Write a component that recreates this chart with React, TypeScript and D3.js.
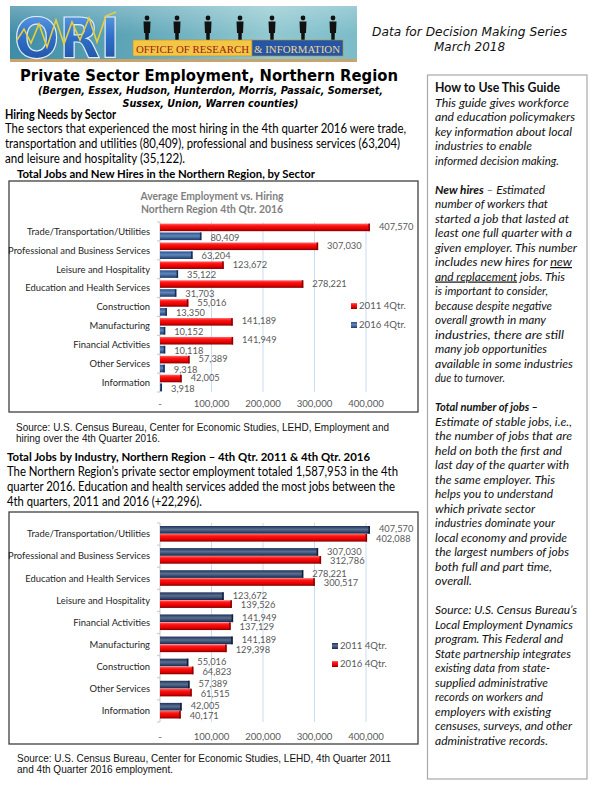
import React from 'react';
import * as d3 from 'd3';

// ---------- DATA ----------
const hiringCategories = [
  'Trade/Transportation/Utilities',
  'Professional and Business Services',
  'Leisure and Hospitality',
  'Education and Health Services',
  'Construction',
  'Manufacturing',
  'Financial Activities',
  'Other Services',
  'Information',
];
const hiringEmployment = [407570, 307030, 123672, 278221, 55016, 141189, 141949, 57389, 42005];
const hiringNewHires = [80409, 63204, 35122, 31703, 13350, 10152, 10118, 9318, 3918];
const hiringSeriesNames = ['2011 4Qtr.', '2016 4Qtr.'];

const jobsCategories = [
  'Trade/Transportation/Utilities',
  'Professional and Business Services',
  'Education and Health Services',
  'Leisure and Hospitality',
  'Financial Activities',
  'Manufacturing',
  'Construction',
  'Other Services',
  'Information',
];
const jobs2011 = [407570, 307030, 278221, 123672, 141949, 141189, 55016, 57389, 42005];
const jobs2016 = [402088, 312786, 300517, 139526, 137129, 129398, 64823, 61515, 40171];
const jobsSeriesNames = ['2011 4Qtr.', '2016 4Qtr.'];

const xTickValues = [0, 100000, 200000, 300000, 400000];
const xTickLabels = ['-', '100,000', '200,000', '300,000', '400,000'];

const chart1Title = ['Average Employment vs. Hiring', 'Northern Region  4th Qtr. 2016'];

const sidebarLines: { n: number; end: number; parts: { t: string; b?: boolean; u?: boolean }[]; title?: boolean }[] = [
  { n: 0, end: 560, title: true, parts: [{ t: 'How to Use This Guide' }] },
  { n: 1, end: 569, parts: [{ t: 'This guide gives workforce' }] },
  { n: 2, end: 575, parts: [{ t: 'and education policymakers' }] },
  { n: 3, end: 572, parts: [{ t: 'key information about local' }] },
  { n: 4, end: 532, parts: [{ t: 'industries to enable' }] },
  { n: 5, end: 559, parts: [{ t: 'informed decision making.' }] },
  { n: 7, end: 545, parts: [{ t: 'New hires', b: true }, { t: ' \u2013 Estimated' }] },
  { n: 8, end: 548, parts: [{ t: 'number of workers that' }] },
  { n: 9, end: 569, parts: [{ t: 'started a job that lasted at' }] },
  { n: 10, end: 572, parts: [{ t: 'least one full quarter with a' }] },
  { n: 11, end: 577, parts: [{ t: 'given employer. This number' }] },
  { n: 12, end: 572, parts: [{ t: 'includes new hires for ' }, { t: 'new', u: true }] },
  { n: 13, end: 565, parts: [{ t: 'and replacement', u: true }, { t: ' jobs.  This' }] },
  { n: 14, end: 548, parts: [{ t: 'is important to consider,' }] },
  { n: 15, end: 552, parts: [{ t: 'because despite negative' }] },
  { n: 16, end: 546, parts: [{ t: 'overall growth in many' }] },
  { n: 17, end: 564, parts: [{ t: 'industries, there are still' }] },
  { n: 18, end: 547, parts: [{ t: 'many job opportunities' }] },
  { n: 19, end: 573, parts: [{ t: 'available in some industries' }] },
  { n: 20, end: 505, parts: [{ t: 'due to turnover.' }] },
  { n: 22, end: 538, parts: [{ t: 'Total number of jobs \u2013', b: true }] },
  { n: 23, end: 572, parts: [{ t: 'Estimate of stable jobs, i.e.,' }] },
  { n: 24, end: 572, parts: [{ t: 'the number of jobs that are' }] },
  { n: 25, end: 562, parts: [{ t: 'held on both the first and' }] },
  { n: 26, end: 569, parts: [{ t: 'last day of the quarter with' }] },
  { n: 27, end: 555, parts: [{ t: 'the same employer. This' }] },
  { n: 28, end: 553, parts: [{ t: 'helps you to understand' }] },
  { n: 29, end: 535, parts: [{ t: 'which private sector' }] },
  { n: 30, end: 555, parts: [{ t: 'industries dominate your' }] },
  { n: 31, end: 567, parts: [{ t: 'local economy and provide' }] },
  { n: 32, end: 569, parts: [{ t: 'the largest numbers of jobs' }] },
  { n: 33, end: 552, parts: [{ t: 'both full and part time,' }] },
  { n: 34, end: 472, parts: [{ t: 'overall.' }] },
  { n: 36, end: 577, parts: [{ t: 'Source: U.S. Census Bureau\u2019s' }] },
  { n: 37, end: 573, parts: [{ t: 'Local Employment Dynamics' }] },
  { n: 38, end: 563, parts: [{ t: 'program. This Federal and' }] },
  { n: 39, end: 571, parts: [{ t: 'State partnership integrates' }] },
  { n: 40, end: 550, parts: [{ t: 'existing data from state-' }] },
  { n: 41, end: 548, parts: [{ t: 'supplied administrative' }] },
  { n: 42, end: 543, parts: [{ t: 'records on workers and' }] },
  { n: 43, end: 551, parts: [{ t: 'employers with existing' }] },
  { n: 44, end: 572, parts: [{ t: 'censuses, surveys, and other' }] },
  { n: 45, end: 548, parts: [{ t: 'administrative records.' }] },
];

// ---------- HELPERS ----------
const BODY = 'Lato, "Open Sans", sans-serif';
const VERD = '"DejaVu Sans", Verdana, sans-serif';
const ARIAL = '"Liberation Sans", Arial, sans-serif';

function T(props: any) {
  const { x, y, w, size = 12, weight, italic, anchor, fill = '#000', family = BODY, children } = props;
  return (
    <text
      x={x}
      y={y}
      fontSize={size}
      fontWeight={weight}
      fontStyle={italic ? 'italic' : undefined}
      textAnchor={anchor}
      fill={fill}
      fontFamily={family}
      textLength={w}
      lengthAdjust={w ? 'spacingAndGlyphs' : undefined}
    >
      {children}
    </text>
  );
}

type Series = { name: string; values: number[]; grad: string; edge: string };

function HBarChart(props: {
  cats: string[];
  series: Series[];
  plotTop: number;
  plotBottom: number;
  subRange: [number, number];
  subPad: number;
  axisLabelY: number;
  legendX: number;
  legendY: number;
  legendStep: number;
}) {
  const { cats, series, plotTop, plotBottom, subRange, subPad, axisLabelY, legendX, legendY, legendStep } = props;
  const x = d3.scaleLinear().domain([0, 400000]).range([160, 366]);
  const y = d3.scaleBand<string>().domain(cats).range([plotTop, plotBottom]);
  const sub = d3
    .scaleBand<string>()
    .domain(series.map((s) => s.name))
    .range(subRange)
    .paddingInner(subPad);
  const fmt = d3.format(',');
  const h = sub.bandwidth();
  return (
    <g>
      {xTickValues.slice(1).map((v) => (
        <line key={v} x1={x(v)} x2={x(v)} y1={plotTop} y2={plotBottom} stroke="#c9dcf2" strokeWidth={1} />
      ))}
      <line x1={x(0)} x2={x(0)} y1={plotTop} y2={plotBottom} stroke="#c8c8c8" strokeWidth={1} />
      {cats.map((c) => (
        <line key={'t' + c} x1={x(0) - 3} x2={x(0)} y1={y(c)!} y2={y(c)!} stroke="#c8c8c8" />
      ))}
      <line x1={x(0) - 3} x2={x(0)} y1={plotBottom} y2={plotBottom} stroke="#c8c8c8" />
      {cats.map((c) => (
        <text
          key={'c' + c}
          x={150}
          y={y(c)! + y.bandwidth() / 2 + 3.3}
          textAnchor="end"
          fontFamily={BODY}
          fontSize={9.4}
          fill="#262626"
        >
          {c}
        </text>
      ))}
      {series.map((s, si) =>
        cats.map((c, i) => {
          const v = s.values[i];
          const y0 = y(c)! + sub(s.name)!;
          const w = x(v) - x(0);
          return (
            <g key={s.name + c}>
              <rect x={x(0)} y={y0} width={w} height={h} fill={`url(#${s.grad})`} />
              <rect x={x(v) - 1.5} y={y0} width={1.5} height={h} fill={s.edge} />
              <text
                x={x(v) + 9}
                y={y0 + h / 2 + (si === 0 ? 2.6 : 4.2)}
                fontFamily={BODY}
                fontSize={9.3}
                fill="#595959"
              >
                {fmt(v)}
              </text>
            </g>
          );
        })
      )}
      {xTickValues.map((v, i) => (
        <text key={'x' + v} x={x(v)} y={axisLabelY} textAnchor="middle" fontFamily={BODY} fontSize={9.6} fill="#595959">
          {xTickLabels[i]}
        </text>
      ))}
      {series.map((s, i) => (
        <g key={'l' + s.name}>
          <rect x={legendX} y={legendY + i * legendStep - 3} width={6} height={6} fill={`url(#${s.grad})`} />
          <text x={legendX + 8} y={legendY + i * legendStep + 3.4} fontFamily={BODY} fontSize={9.6} fill="#595959">
            {s.name}
          </text>
        </g>
      ))}
    </g>
  );
}

function Logo() {
  const figures = [147, 177, 208, 240, 272, 303, 333];
  const zig = '17,40 24,29 31,43 39,24 47,47 56,20 64,44 72,22 80,40 89,18 97,42 106,16 116,12';
  return (
    <g>
      <defs>
        <linearGradient id="logoBg" x1="0" y1="0" x2="1" y2="0">
          <stop offset="0" stopColor="#3f8ca6" />
          <stop offset="0.35" stopColor="#5fa6b8" />
          <stop offset="0.75" stopColor="#93c9d1" />
          <stop offset="1" stopColor="#7bbcc8" />
        </linearGradient>
        <linearGradient id="logoShade" x1="0" y1="0" x2="0" y2="1">
          <stop offset="0" stopColor="#ffffff" stopOpacity="0.25" />
          <stop offset="1" stopColor="#ffffff" stopOpacity="0" />
        </linearGradient>
        <linearGradient id="oriFill" x1="0" y1="0" x2="0" y2="1">
          <stop offset="0" stopColor="#6aa8ea" />
          <stop offset="0.5" stopColor="#2f6fc8" />
          <stop offset="1" stopColor="#1c4a9a" />
        </linearGradient>
      </defs>
      <rect x={10} y={6} width={347} height={56} fill="url(#logoBg)" />
      <rect x={10} y={6} width={347} height={28} fill="url(#logoShade)" />
      <rect x={10} y={59} width={347} height={3} fill="#c9a36b" />
      <text
        x={14}
        y={57}
        fontFamily={VERD}
        fontWeight="bold"
        fontSize={56}
        fill="url(#oriFill)"
        stroke="#e3eef8"
        strokeWidth={1.2}
        textLength={106}
        lengthAdjust="spacingAndGlyphs"
      >
        ORI
      </text>
      <polyline points={zig} fill="none" stroke="#e8cf3a" strokeWidth={1.6} />
      {figures.map((fx) => (
        <g key={fx} fill="#111">
          <circle cx={fx} cy={18} r={2.4} />
          <path
            d={`M${fx - 3.5},21.5 L${fx + 3.5},21.5 L${fx + 3},33 L${fx + 1.8},33 L${fx + 1.6},44 L${fx - 1.6},44 L${fx - 1.8},33 L${fx - 3},33 Z`}
          />
        </g>
      ))}
      <rect x={133} y={40} width={119} height={16} fill="#f3c645" stroke="#b8912e" strokeWidth={0.6} />
      <rect x={252} y={40} width={91} height={16} fill="#2455a6" stroke="#b8912e" strokeWidth={0.6} />
      <text x={136} y={52.5} fontFamily='"Liberation Serif", serif' fontSize={11} fill="#9a1c14" textLength={113} lengthAdjust="spacingAndGlyphs">
        OFFICE OF RESEARCH
      </text>
      <text x={254} y={52.5} fontFamily='"Liberation Serif", serif' fontSize={11} fill="#f0d68c" textLength={86} lengthAdjust="spacingAndGlyphs">
        &amp; INFORMATION
      </text>
    </g>
  );
}

export default function App() {
  const sideX = 435;
  const sideBase = 92;
  const sideStep = 14.5;
  return (
    <div style={{ position: 'absolute', left: 0, top: 0 }}>
      <svg width={600} height={800} style={{ display: 'block', background: '#fff' }}>
        <defs>
          <linearGradient id="redBar" x1="0" y1="0" x2="0" y2="1">
            <stop offset="0" stopColor="#ff6a6a" />
            <stop offset="0.3" stopColor="#ff1212" />
            <stop offset="0.7" stopColor="#e40000" />
            <stop offset="1" stopColor="#7d0000" />
          </linearGradient>
          <linearGradient id="blueBar" x1="0" y1="0" x2="0" y2="1">
            <stop offset="0" stopColor="#2a528a" />
            <stop offset="0.45" stopColor="#5f86bd" />
            <stop offset="1" stopColor="#1b3a68" />
          </linearGradient>
          <linearGradient id="navyBar" x1="0" y1="0" x2="0" y2="1">
            <stop offset="0" stopColor="#1d3357" />
            <stop offset="0.45" stopColor="#5b6f92" />
            <stop offset="1" stopColor="#16284a" />
          </linearGradient>
        </defs>

        <Logo />
        <T x={469.5} y={35.5} w={195} size={13} italic family={VERD} fill="#111" anchor="middle">
          Data for Decision Making Series
        </T>
        <T x={469.5} y={50.5} w={71} size={13} italic family={VERD} fill="#111" anchor="middle">
          March 2018
        </T>

        <T x={209} y={80.5} w={378} size={15.5} weight="bold" family={VERD} anchor="middle">
          Private Sector Employment, Northern Region
        </T>
        <T x={210.5} y={94} w={345} size={11} weight="bold" italic family={VERD} anchor="middle">
          (Bergen, Essex, Hudson, Hunterdon, Morris, Passaic, Somerset,
        </T>
        <T x={210.5} y={106.5} w={176} size={11} weight="bold" italic family={VERD} anchor="middle">
          Sussex, Union, Warren counties)
        </T>

        <T x={5} y={118.5} w={111} size={12.5} weight="bold">
          Hiring Needs by Sector
        </T>
        <T x={5} y={133} w={401} size={12.5}>
          The sectors that experienced the most hiring in the 4th quarter 2016 were trade,
        </T>
        <T x={5} y={148} w={395} size={12.5}>
          transportation and utilities (80,409), professional and business services (63,204)
        </T>
        <T x={5} y={163} w={180} size={12.5}>
          and leisure and hospitality (35,122).
        </T>
        <T x={17} y={178} w={298} size={12} weight="bold">
          Total Jobs and New Hires in the Northern Region, by Sector
        </T>

        {/* Chart 1 */}
        <rect x={9} y={181} width={409} height={231} fill="#fff" stroke="#3f3f3f" strokeWidth={1.3} />
        <T x={212} y={200} w={143} size={11} weight="bold" fill="#7f7f7f" anchor="middle">
          {chart1Title[0]}
        </T>
        <T x={212} y={213} w={142} size={11} weight="bold" fill="#7f7f7f" anchor="middle">
          {chart1Title[1]}
        </T>
        <HBarChart
          cats={hiringCategories}
          series={[
            { name: hiringSeriesNames[0], values: hiringEmployment, grad: 'redBar', edge: '#8a0000' },
            { name: hiringSeriesNames[1], values: hiringNewHires, grad: 'blueBar', edge: '#14305a' },
          ]}
          plotTop={222}
          plotBottom={392}
          subRange={[1.6, 18.1]}
          subPad={0.15}
          axisLabelY={406.5}
          legendX={351}
          legendY={306}
          legendStep={19}
        />

        <T x={16} y={431} w={373} size={10.5} family={ARIAL} fill="#111">
          Source: U.S. Census Bureau, Center for Economic Studies, LEHD, Employment and
        </T>
        <T x={16} y={442} w={144} size={10.5} family={ARIAL} fill="#111">
          hiring over the 4th Quarter 2016.
        </T>

        <T x={7} y={461} w={363} size={12} weight="bold">
          Total Jobs by Industry, Northern Region – 4th Qtr. 2011 &amp; 4th Qtr. 2016
        </T>
        <T x={7} y={476} w={391} size={12.5}>
          The Northern Region’s private sector employment totaled 1,587,953 in the 4th
        </T>
        <T x={7} y={491} w={388} size={12.5}>
          quarter 2016. Education and health services added the most jobs between the
        </T>
        <T x={7} y={506} w={195} size={12.5}>
          4th quarters, 2011 and 2016 (+22,296).
        </T>

        {/* Chart 2 */}
        <rect x={9} y={512} width={409} height={232} fill="#fff" stroke="#3f3f3f" strokeWidth={1.3} />
        <HBarChart
          cats={jobsCategories}
          series={[
            { name: jobsSeriesNames[0], values: jobs2011, grad: 'navyBar', edge: '#0f1f3a' },
            { name: jobsSeriesNames[1], values: jobs2016, grad: 'redBar', edge: '#8a0000' },
          ]}
          plotTop={523}
          plotBottom={722}
          subRange={[3, 18.6]}
          subPad={0.03}
          axisLabelY={739.5}
          legendX={332}
          legendY={646}
          legendStep={18}
        />

        <T x={17} y={761.5} w={374} size={10.5} family={ARIAL} fill="#111">
          Source: U.S. Census Bureau, Center for Economic Studies, LEHD, 4th Quarter 2011
        </T>
        <T x={17} y={772.5} w={156} size={10.5} family={ARIAL} fill="#111">
          and 4th Quarter 2016 employment.
        </T>

        {/* Sidebar */}
        <rect x={427.5} y={75} width={159.5} height={704} fill="none" stroke="#a9a9a9" strokeWidth={1.2} />
        {sidebarLines.map((ln) => (
          <text
            key={ln.n}
            x={sideX}
            y={sideBase + ln.n * sideStep}
            fontFamily={BODY}
            fontSize={ln.title ? 12.8 : 12}
            fontStyle={ln.title ? 'normal' : 'italic'}
            fontWeight={ln.title ? 'bold' : 'normal'}
            fill="#111"
            textLength={ln.end - sideX}
            lengthAdjust="spacingAndGlyphs"
          >
            {ln.parts.map((p, i) => (
              <tspan key={i} fontWeight={p.b || ln.title ? 'bold' : 'normal'} textDecoration={p.u ? 'underline' : undefined}>
                {p.t}
              </tspan>
            ))}
          </text>
        ))}
      </svg>
    </div>
  );
}
